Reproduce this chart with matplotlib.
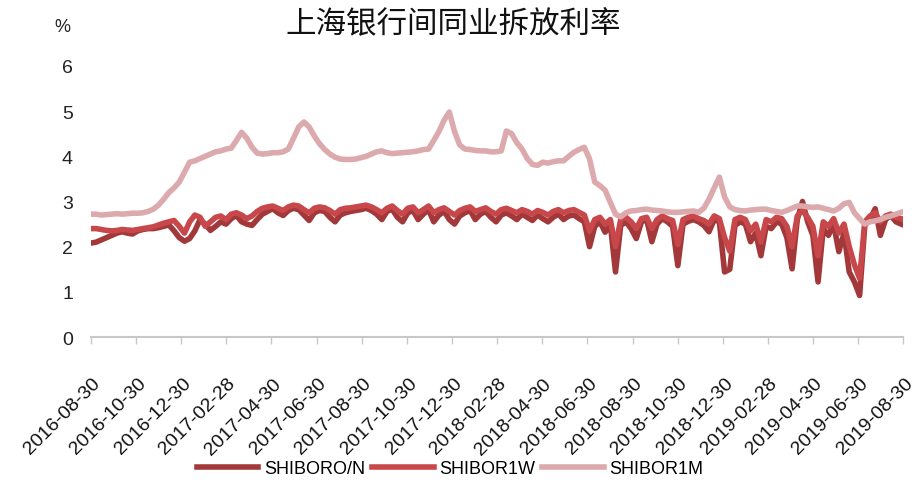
"""
plot.py
-------
SHIBOR O/N, 1W and 1M, weekly readings 2016-08-30 .. 2019-08-30.
"""
import numpy as np
import pandas as pd
import matplotlib as mpl
import matplotlib.pyplot as plt
from matplotlib.transforms import ScaledTranslation


mpl.rcParams.update({
    "font.family": ["Liberation Sans", "DejaVu Sans"],
    "font.size": 14,
})

TITLE = "上海银行间同业拆放利率"
NAMES = ["SHIBORO/N", "SHIBOR1W", "SHIBOR1M"]
COLORS = ["#a2383a", "#c8474a", "#dcaaac"]

START = "2016-08-30"
TICK_DATES = [
    "2016-08-30", "2016-10-30", "2016-12-30", "2017-02-28", "2017-04-30",
    "2017-06-30", "2017-08-30", "2017-10-30", "2017-12-30", "2018-02-28",
    "2018-04-30", "2018-06-30", "2018-08-30", "2018-10-30", "2018-12-30",
    "2019-02-28", "2019-04-30", "2019-06-30", "2019-08-30",
]

# weekly readings
shibor_on = [
    2.08, 2.10, 2.15, 2.20, 2.25, 2.30, 2.33, 2.30, 2.28, 2.35, 2.38, 2.40,
    2.40, 2.42, 2.45, 2.48, 2.35,
    2.20, 2.12, 2.18, 2.35,
    2.60, 2.50, 2.36, 2.45, 2.55, 2.50, 2.62,
    2.69, 2.55, 2.50, 2.47, 2.60, 2.72, 2.78, 2.84, 2.75, 2.69,
    2.80, 2.85, 2.82, 2.70, 2.58, 2.75, 2.80, 2.78, 2.65, 2.55, 2.70, 2.75,
    2.78, 2.80, 2.82, 2.85, 2.80, 2.72, 2.60, 2.78, 2.83, 2.65, 2.55, 2.75,
    2.80, 2.60, 2.72, 2.82, 2.55, 2.70, 2.78, 2.60, 2.50, 2.68, 2.75, 2.80,
    2.60, 2.72, 2.78, 2.65, 2.55, 2.70, 2.75, 2.68, 2.60, 2.72, 2.65, 2.58,
    2.70, 2.62, 2.55, 2.65, 2.72, 2.60, 2.68, 2.70, 2.62, 2.55,
    2.00, 2.45, 2.55, 2.32, 2.50, 1.44, 2.47, 2.55, 2.40, 2.18, 2.55, 2.60,
    2.11, 2.50, 2.62, 2.55, 2.45, 1.58, 2.50, 2.56, 2.60, 2.55, 2.47,
    2.33, 2.60, 2.55, 1.44, 1.50, 2.47, 2.55, 2.50, 2.11, 2.30, 1.80, 2.45,
    2.40, 2.55, 2.50, 2.20, 1.51, 2.60, 3.00, 2.55, 2.25, 1.22, 2.40, 2.25,
    2.50, 1.89, 2.30, 1.44, 1.22, 0.92, 2.47, 2.60, 2.84, 2.25, 2.60, 2.69,
    2.55, 2.50,
]
shibor_1w = [
    2.40, 2.40, 2.38, 2.36, 2.35, 2.36, 2.38, 2.37, 2.36, 2.38, 2.40, 2.42,
    2.44, 2.48, 2.52, 2.55, 2.58,
    2.45, 2.30, 2.55, 2.70,
    2.65, 2.45, 2.55, 2.65, 2.68, 2.60, 2.72,
    2.75, 2.70, 2.62, 2.68, 2.78, 2.85, 2.88, 2.90, 2.85, 2.80,
    2.88, 2.92, 2.90, 2.82, 2.75, 2.85, 2.88, 2.86, 2.80, 2.72, 2.82, 2.85,
    2.86, 2.88, 2.90, 2.92, 2.88, 2.82, 2.75, 2.85, 2.90, 2.80, 2.72, 2.85,
    2.88, 2.75, 2.82, 2.90, 2.75, 2.82, 2.86, 2.78, 2.70, 2.80, 2.85, 2.88,
    2.78, 2.82, 2.86, 2.78, 2.72, 2.82, 2.85, 2.80, 2.75, 2.82, 2.78, 2.72,
    2.80, 2.76, 2.70, 2.78, 2.82, 2.75, 2.80, 2.82, 2.76, 2.70,
    2.35, 2.60, 2.65, 2.50, 2.60, 2.00, 2.60, 2.65, 2.55, 2.40, 2.62, 2.65,
    2.40, 2.60, 2.68, 2.62, 2.58, 2.05, 2.60, 2.65, 2.68, 2.62, 2.58,
    2.50, 2.68, 2.62, 2.20, 1.90, 2.60, 2.65, 2.60, 2.35, 2.50, 2.10, 2.60,
    2.55, 2.65, 2.62, 2.45, 2.00, 2.68, 2.80, 2.65, 2.45, 1.80, 2.55, 2.45,
    2.62, 2.30, 2.50, 2.00, 1.60, 1.30, 2.55, 2.68, 2.75, 2.55, 2.68, 2.72,
    2.65, 2.62,
]
shibor_1m = [
    2.72, 2.72, 2.70, 2.71, 2.72, 2.73, 2.72, 2.73, 2.74, 2.74, 2.75, 2.78,
    2.83, 2.92, 3.05, 3.20, 3.30, 3.43, 3.65, 3.87, 3.90, 3.95, 4.00, 4.05,
    4.10, 4.12, 4.16, 4.18, 4.35, 4.53, 4.40, 4.20, 4.07, 4.05, 4.06, 4.08,
    4.08, 4.10, 4.16, 4.40, 4.65, 4.76, 4.65, 4.45, 4.28, 4.15, 4.05, 3.98,
    3.94, 3.93, 3.93, 3.94, 3.97, 4.00, 4.05, 4.10, 4.12, 4.08, 4.06, 4.07,
    4.08, 4.09, 4.10, 4.12, 4.15, 4.16, 4.35, 4.55, 4.80, 4.98, 4.55, 4.25,
    4.16, 4.15, 4.13, 4.12, 4.12, 4.10, 4.10, 4.12, 4.56, 4.50, 4.30, 4.16,
    3.95, 3.82, 3.80, 3.87, 3.85, 3.88, 3.90, 3.90, 4.00, 4.09, 4.15, 4.20,
    3.94, 3.43, 3.35, 3.25, 2.98, 2.72, 2.66, 2.75, 2.79, 2.80, 2.82, 2.83,
    2.81, 2.80, 2.79, 2.77, 2.76, 2.76, 2.77, 2.78, 2.79, 2.76, 2.85, 3.05,
    3.30, 3.54, 3.10, 2.88, 2.82, 2.80, 2.79, 2.81, 2.82, 2.83, 2.83, 2.80,
    2.78, 2.76, 2.80, 2.85, 2.90, 2.90, 2.88, 2.87, 2.88, 2.85, 2.82, 2.79,
    2.85, 2.95, 2.98, 2.75, 2.62, 2.50, 2.55, 2.57, 2.60, 2.65, 2.68, 2.72,
    2.76,
]


def main() -> None:
    dates = pd.date_range(START, periods=len(shibor_on), freq="7D")

    fig = plt.figure(figsize=(9.19, 4.85), dpi=100)
    ax = fig.add_axes([0.099, 0.303, 0.884, 0.559])

    for vals, name, col in zip([shibor_on, shibor_1w, shibor_1m], NAMES, COLORS):
        ax.plot(dates, np.asarray(vals), color=col, lw=4.0, label=name,
                solid_joinstyle="round")

    ax.set_ylim(0, 6)
    ax.set_yticks(range(0, 7))
    ax.set_xlim(pd.Timestamp(TICK_DATES[0]), pd.Timestamp(TICK_DATES[-1]))
    ax.set_xticks(pd.to_datetime(TICK_DATES))
    ax.set_xticklabels(TICK_DATES)

    for s in ["left", "right", "top"]:
        ax.spines[s].set_visible(False)
    ax.spines["bottom"].set_color("#c8c8c8")
    ax.spines["bottom"].set_linewidth(1.5)
    ax.tick_params(axis="y", length=0, pad=13, labelsize=14, colors="#222222")
    ax.tick_params(axis="x", length=5, width=1, color="#c8c8c8",
                   direction="out", pad=22, labelsize=14, labelcolor="#111111")

    # labels hang a touch right of their tick, as in the source chart
    offset = ScaledTranslation(1 / 100, 0, fig.dpi_scale_trans)
    for lab in ax.get_xticklabels():
        lab.set_rotation(45)
        lab.set_rotation_mode("anchor")
        lab.set_ha("right")
        lab.set_va("top")
        lab.set_transform(lab.get_transform() + offset)

    fig.text(62 / 919, 1 - 28 / 485, "%", ha="center", va="center",
             fontsize=13, color="#222222")
    fig.text(453 / 919, 1 - 25 / 485, TITLE, ha="center", va="center",
             fontsize=22, family=["Noto Sans CJK SC", "DejaVu Sans"],
             color="#111111")

    fig.legend(loc="center", bbox_to_anchor=(450 / 919, 1 - 470 / 485),
               ncol=3, frameon=False, fontsize=13, handlelength=3.4,
               handletextpad=0.3, columnspacing=0.4)

    fig.savefig("out.png", dpi=100)
    plt.close(fig)


if __name__ == "__main__":
    main()
